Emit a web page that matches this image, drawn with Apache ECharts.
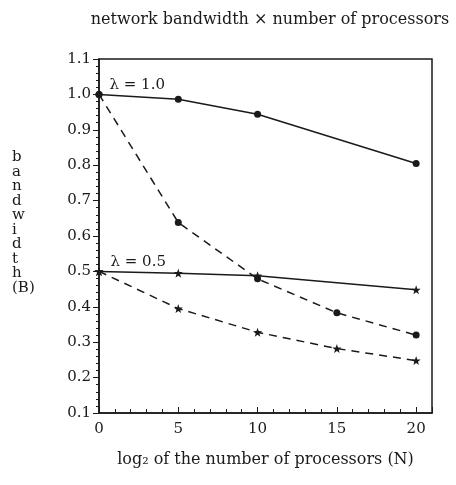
<!DOCTYPE html>
<html>
<head>
<meta charset="utf-8">
<script src="https://cdn.jsdelivr.net/npm/echarts@6/dist/echarts.min.js"></script>
<style>
  html, body { margin: 0; padding: 0; background: #fff; }
  #chart { width: 456px; height: 485px; }
</style>
</head>
<body>
<div id="chart"></div>
<script>
// log2 of the number of processors
const logN = [0, 5, 10, 15, 20];

// lambda = 1.0
const lam1Solid = [1.0, 0.986, 0.944, null, 0.805];
const lam1Dashed = [1.0, 0.638, 0.479, 0.383, 0.32];

// lambda = 0.5
const lam05Solid = [0.5, 0.495, 0.488, null, 0.448];
const lam05Dashed = [0.5, 0.395, 0.328, 0.282, 0.248];

const ink = '#1a1a1a';
const serif = '"DejaVu Serif", "Liberation Serif", serif';
const starPath = 'path://M0,-10L2.4,-3.3L9.5,-3.1L3.9,1.3L5.9,8.1L0,4.1L-5.9,8.1L-3.9,1.3L-9.5,-3.1L-2.4,-3.3Z';

function pairs(values) {
    const out = [];
    values.forEach(function (v, i) {
        if (v != null) out.push([logN[i], v]);
    });
    return out;
}

function lineSeries(values, dashed, symbol, size, label) {
    const data = pairs(values);
    if (label) {
        data[0] = {
            value: data[0],
            label: {
                show: true,
                formatter: label,
                position: 'right',
                offset: [2, -9],
                fontFamily: serif,
                fontSize: 15,
                color: ink
            }
        };
    }
    return {
        type: 'line',
        data: data,
        connectNulls: true,
        symbol: symbol,
        symbolSize: size,
        showSymbol: true,
        itemStyle: { color: ink },
        lineStyle: {
            color: ink,
            width: 1.5,
            type: dashed ? [8, 6] : 'solid'
        },
        emphasis: { disabled: true },
        z: 3
    };
}

const chart = echarts.init(document.getElementById('chart'));

const option = {
    animation: false,
    backgroundColor: '#fff',
    textStyle: { fontFamily: serif },
    grid: { left: 99, right: 24, top: 59, bottom: 72 },
    title: {
        text: 'network bandwidth × number of processors',
        left: 265,
        top: 7,
        textAlign: 'center',
        textStyle: { fontFamily: serif, fontSize: 16, fontWeight: 'normal', color: ink }
    },
    xAxis: {
        type: 'value',
        min: 0,
        max: 21,
        interval: 5,
        name: 'log₂ of the number of processors (N)',
        nameLocation: 'middle',
        nameGap: 39,
        nameTextStyle: { fontFamily: serif, fontSize: 16, color: ink, padding: [0, 0, 0, 0] },
        axisLine: { show: true, lineStyle: { color: ink, width: 1.5 } },
        axisTick: { show: true, inside: true, length: 6, lineStyle: { color: ink } },
        minorTick: { show: true, splitNumber: 5, length: 4, lineStyle: { color: ink } },
        axisLabel: {
            fontFamily: serif, fontSize: 15, color: ink, margin: 9,
            formatter: function (v) { return v > 20 ? '' : v; }
        },
        splitLine: { show: false }
    },
    yAxis: {
        type: 'value',
        min: 0.1,
        max: 1.1,
        interval: 0.1,
        axisLine: { show: true, lineStyle: { color: ink, width: 1.5 } },
        axisTick: { show: true, length: 6, lineStyle: { color: ink } },
        minorTick: { show: true, splitNumber: 5, length: 3, lineStyle: { color: ink } },
        axisLabel: {
            fontFamily: serif, fontSize: 15, color: ink, margin: 8,
            formatter: function (v) { return v.toFixed(1); }
        },
        splitLine: { show: false }
    },
    graphic: [{
        type: 'rect',
        shape: { x: 99, y: 59, width: 333, height: 354 },
        style: { fill: 'none', stroke: ink, lineWidth: 1.5 },
        silent: true
    }, {
        type: 'text',
        left: 12,
        top: 150,
        style: {
            text: 'bandwidth'.split('').join('\n') + '\n(B)',
            font: '15px ' + serif,
            lineHeight: 14.5,
            fill: ink,
            align: 'center'
        }
    }],
    series: [
        lineSeries(lam1Solid, false, 'circle', 7, 'λ = 1.0'),
        lineSeries(lam1Dashed, true, 'circle', 7),
        lineSeries(lam05Solid, false, starPath, 9, 'λ = 0.5'),
        lineSeries(lam05Dashed, true, starPath, 9)
    ]
};

chart.setOption(option);
</script>
</body>
</html>
